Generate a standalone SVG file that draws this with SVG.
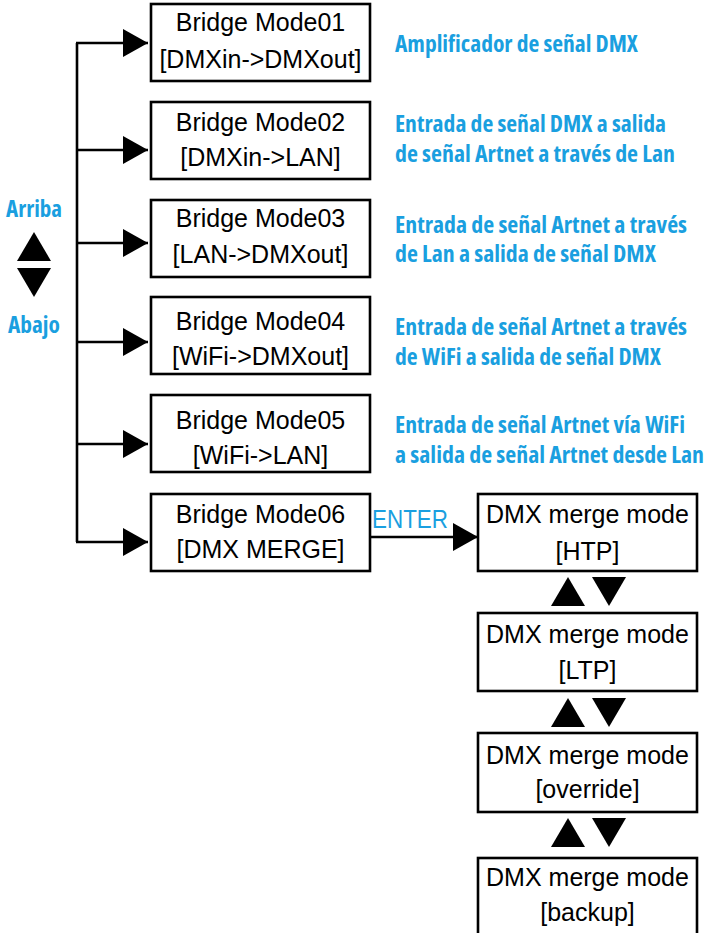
<svg xmlns="http://www.w3.org/2000/svg" xmlns:xlink="http://www.w3.org/1999/xlink" width="710" height="933" viewBox="0 0 710 933">
<style>
.box{fill:#fff;stroke:#000;stroke-width:2.6}
.t{font-family:"Liberation Sans",Arial,sans-serif;font-size:25px;fill:#000;text-anchor:middle}
.b{font-family:"Open Sans","Liberation Sans",sans-serif;font-stretch:75%;font-weight:bold;font-size:23px;fill:#1a9fe0}
.e{font-family:"Liberation Sans",Arial,sans-serif;font-size:25px;fill:#1a9fe0}
.ln{fill:none;stroke:#000;stroke-width:2.6}
</style>
<defs>
<marker id="ah" markerUnits="userSpaceOnUse" markerWidth="25" markerHeight="28" refX="25" refY="14" orient="auto" viewBox="0 0 25 28">
<path d="M0,0 L25,14 L0,28 Z" fill="#000"/>
</marker>
<path id="up" d="M0,29 L17,0 L34,29 Z" fill="#000"/>
<path id="dn" d="M0,0 L34,0 L17,29 Z" fill="#000"/>
</defs>

<g id="connectors">
<path class="ln" d="M77,43 V542"/>
<path class="ln" d="M76,43 H148" marker-end="url(#ah)"/>
<path class="ln" d="M77,150 H148" marker-end="url(#ah)"/>
<path class="ln" d="M77,243 H148" marker-end="url(#ah)"/>
<path class="ln" d="M77,342 H148" marker-end="url(#ah)"/>
<path class="ln" d="M77,444 H148" marker-end="url(#ah)"/>
<path class="ln" d="M76,542 H148" marker-end="url(#ah)"/>
<path class="ln" d="M370,537 H478" marker-end="url(#ah)"/>
<text class="e" x="372" y="528" textLength="76" lengthAdjust="spacingAndGlyphs">ENTER</text>
</g>

<g id="nav-left">
<text class="b" x="6" y="217" font-size="24" textLength="56" lengthAdjust="spacingAndGlyphs">Arriba</text>
<use xlink:href="#up" x="17" y="232"/>
<use xlink:href="#dn" x="17" y="268"/>
<text class="b" x="8" y="333" font-size="24" textLength="52" lengthAdjust="spacingAndGlyphs">Abajo</text>
</g>

<g id="mode01">
<rect class="box" x="151" y="4" width="219" height="77"/>
<text class="t" x="260.5" y="31">Bridge Mode01</text>
<text class="t" x="260.5" y="68">[DMXin-&gt;DMXout]</text>
</g>
<g id="mode02">
<rect class="box" x="151" y="102" width="219" height="77"/>
<text class="t" x="260.5" y="131">Bridge Mode02</text>
<text class="t" x="260.5" y="166">[DMXin-&gt;LAN]</text>
</g>
<g id="mode03">
<rect class="box" x="151" y="200" width="219" height="77"/>
<text class="t" x="260.5" y="227">Bridge Mode03</text>
<text class="t" x="260.5" y="263">[LAN-&gt;DMXout]</text>
</g>
<g id="mode04">
<rect class="box" x="151" y="297" width="219" height="77"/>
<text class="t" x="260.5" y="330">Bridge Mode04</text>
<text class="t" x="260.5" y="365">[WiFi-&gt;DMXout]</text>
</g>
<g id="mode05">
<rect class="box" x="151" y="395" width="219" height="77"/>
<text class="t" x="260.5" y="429">Bridge Mode05</text>
<text class="t" x="260.5" y="464">[WiFi-&gt;LAN]</text>
</g>
<g id="mode06">
<rect class="box" x="151" y="494" width="219" height="77"/>
<text class="t" x="260.5" y="523">Bridge Mode06</text>
<text class="t" x="260.5" y="558">[DMX MERGE]</text>
</g>

<g id="desc">
<text class="b" x="395" y="52" textLength="243" lengthAdjust="spacingAndGlyphs">Amplificador de señal DMX</text>
<text class="b" x="395" y="132" textLength="271" lengthAdjust="spacingAndGlyphs">Entrada de señal DMX a salida</text>
<text class="b" x="395" y="162" textLength="280" lengthAdjust="spacingAndGlyphs">de señal Artnet a través de Lan</text>
<text class="b" x="395" y="233" textLength="292" lengthAdjust="spacingAndGlyphs">Entrada de señal Artnet a través</text>
<text class="b" x="395" y="262" textLength="261" lengthAdjust="spacingAndGlyphs">de Lan a salida de señal DMX</text>
<text class="b" x="395" y="335" textLength="292" lengthAdjust="spacingAndGlyphs">Entrada de señal Artnet a través</text>
<text class="b" x="395" y="365" textLength="266" lengthAdjust="spacingAndGlyphs">de WiFi a salida de señal DMX</text>
<text class="b" x="395" y="433" textLength="290" lengthAdjust="spacingAndGlyphs">Entrada de señal Artnet vía WiFi</text>
<text class="b" x="395" y="463" textLength="309" lengthAdjust="spacingAndGlyphs">a salida de señal Artnet desde Lan</text>
</g>

<g id="merge-htp">
<rect class="box" x="478" y="494" width="219" height="77"/>
<text class="t" x="587.5" y="523">DMX merge mode</text>
<text class="t" x="587.5" y="560">[HTP]</text>
</g>
<g id="merge-ltp">
<rect class="box" x="478" y="613" width="219" height="78"/>
<text class="t" x="587.5" y="643">DMX merge mode</text>
<text class="t" x="587.5" y="679">[LTP]</text>
</g>
<g id="merge-override">
<rect class="box" x="478" y="733" width="219" height="79"/>
<text class="t" x="587.5" y="764">DMX merge mode</text>
<text class="t" x="587.5" y="798">[override]</text>
</g>
<g id="merge-backup">
<rect class="box" x="478" y="858" width="219" height="85"/>
<text class="t" x="587.5" y="886">DMX merge mode</text>
<text class="t" x="587.5" y="921">[backup]</text>
</g>

<g id="nav-right">
<use xlink:href="#up" x="551" y="577"/>
<use xlink:href="#dn" x="592" y="577"/>
<use xlink:href="#up" x="551" y="698"/>
<use xlink:href="#dn" x="592" y="698"/>
<use xlink:href="#up" x="551" y="818"/>
<use xlink:href="#dn" x="592" y="818"/>
</g>
</svg>
